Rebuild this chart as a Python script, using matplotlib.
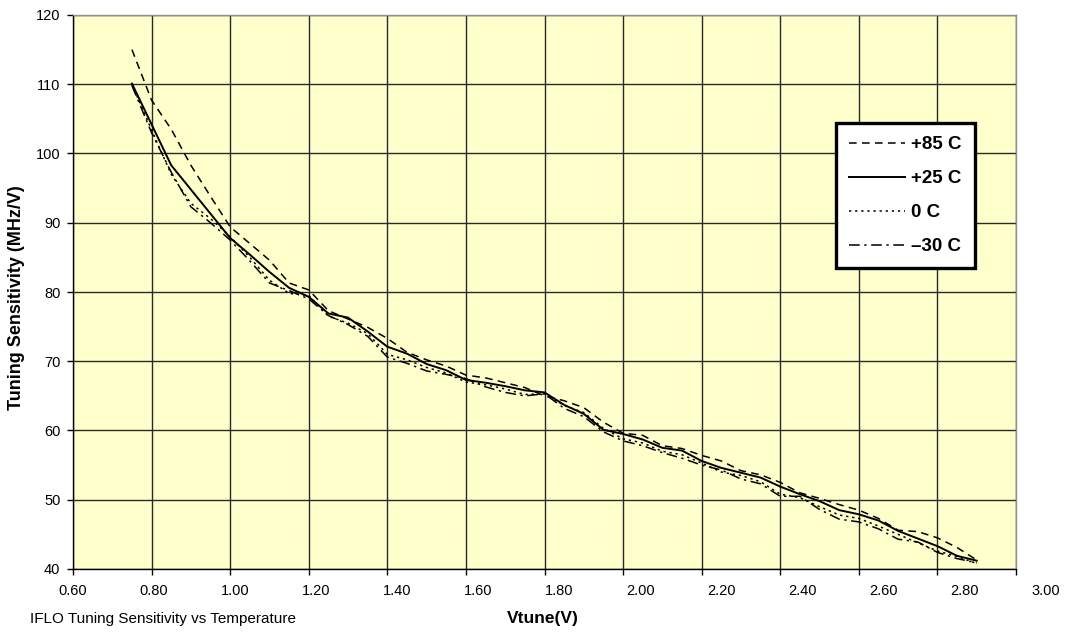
import matplotlib
matplotlib.use("Agg")
import matplotlib.pyplot as plt
import matplotlib.transforms as mtransforms

plt.rcParams["font.family"] = ["Liberation Sans", "DejaVu Sans"]

# Vtune sweep (V) shared by all temperature runs
vtune = [0.75, 0.80, 0.85, 0.90, 0.95, 1.00, 1.05, 1.10, 1.15, 1.20, 1.25,
         1.30, 1.35, 1.40, 1.45, 1.50, 1.55, 1.60, 1.65, 1.70, 1.75, 1.80,
         1.85, 1.90, 1.95, 2.00, 2.05, 2.10, 2.15, 2.20, 2.25, 2.30, 2.35,
         2.40, 2.45, 2.50, 2.55, 2.60, 2.65, 2.70, 2.75, 2.80, 2.85, 2.90]

# tuning sensitivity (MHz/V) per temperature
sens_p85 = [115.0, 107.7, 103.5, 98.3, 93.8, 89.4, 87.0, 84.6, 81.3, 80.3, 77.3,
            76.1, 74.9, 73.3, 71.3, 70.2, 69.3, 68.0, 67.6, 66.9, 66.2, 65.0,
            64.3, 63.3, 61.2, 59.6, 59.3, 57.8, 57.4, 56.4, 55.6, 54.2, 53.6,
            52.5, 51.0, 50.2, 49.3, 48.5, 47.3, 45.6, 45.4, 44.5, 43.1, 41.3]
sens_p25 = [110.1, 104.2, 98.3, 94.8, 91.3, 87.8, 85.4, 82.9, 80.6, 79.3, 76.9,
            76.3, 74.3, 72.1, 71.1, 69.6, 68.7, 67.3, 66.9, 66.4, 65.8, 65.5,
            63.7, 62.4, 60.1, 59.5, 58.7, 57.5, 57.1, 55.6, 54.6, 53.9, 53.2,
            51.9, 50.8, 49.8, 48.5, 47.9, 47.0, 45.5, 44.4, 43.3, 41.9, 41.2]
sens_0 = [110.0, 103.4, 97.0, 92.8, 90.6, 88.0, 85.0, 81.7, 79.8, 79.5, 76.5,
          75.5, 74.0, 71.0, 70.2, 69.1, 68.3, 67.0, 66.6, 66.0, 65.2, 65.3,
          63.6, 62.6, 60.3, 58.8, 58.2, 57.0, 56.5, 55.3, 54.0, 53.5, 52.6,
          50.8, 50.3, 49.0, 47.8, 47.3, 46.2, 45.0, 43.8, 42.6, 41.8, 40.8]
sens_m30 = [109.8, 103.0, 97.3, 92.3, 90.0, 87.5, 84.5, 81.3, 80.2, 79.0, 76.6,
            75.3, 73.6, 70.6, 69.7, 68.6, 68.1, 67.5, 66.3, 65.5, 65.0, 65.3,
            63.2, 62.0, 59.8, 58.5, 57.8, 56.8, 56.0, 55.0, 54.3, 53.0, 52.3,
            50.5, 50.5, 48.6, 47.2, 46.8, 45.8, 44.3, 43.9, 42.4, 41.5, 40.9]

labels = ["+85 C", "+25 C", "0 C", "\u201330 C"]
xticks = [0.60, 0.80, 1.00, 1.20, 1.40, 1.60, 1.80, 2.00, 2.20, 2.40, 2.60, 2.80, 3.00]
yticks = [40, 50, 60, 70, 80, 90, 100, 110, 120]

fig = plt.figure(figsize=(10.66, 6.35), dpi=100)
ax = fig.add_axes([73 / 1066, 1 - 569 / 635, (1016 - 73) / 1066, (569 - 15) / 635])
ax.set_facecolor("#FFFFCC")

styles = [
    dict(linestyle=(0, (5, 3.5)), linewidth=1.1),
    dict(linestyle="-", linewidth=1.4),
    dict(linestyle=(0, (1.5, 2.5)), linewidth=1.1),
    dict(linestyle=(0, (7, 3, 1.5, 3)), linewidth=1.1),
]
for ys, lab, st in zip([sens_p85, sens_p25, sens_0, sens_m30], labels, styles):
    ax.plot(vtune, ys, color="black", label=lab, **st)

ax.set_xlim(0.60, 3.00)
ax.set_ylim(40, 120)
ax.set_xticks(xticks)
ax.set_xticklabels([f"{t:.2f}" for t in xticks])
ax.set_yticks(yticks)
ax.grid(True, color="#2a2a2a", linewidth=1.0)
ax.set_axisbelow(True)

for side in ["top", "right"]:
    ax.spines[side].set_color("#909090")
    ax.spines[side].set_linewidth(1.0)
for side in ["left", "bottom"]:
    ax.spines[side].set_color("black")
    ax.spines[side].set_linewidth(1.0)

ax.tick_params(axis="both", direction="out", length=4, width=1, labelsize=10.5,
               colors="black")
ax.tick_params(axis="y", pad=5)
ax.tick_params(axis="x", pad=7)

# x tick labels drift slightly right of their ticks
for i, lab in enumerate(ax.get_xticklabels()):
    off = mtransforms.ScaledTranslation(i * 2.5 / 100, 0, fig.dpi_scale_trans)
    lab.set_transform(lab.get_transform() + off)

fig.text(543 / 1066, 1 - 619 / 635, "Vtune(V)", fontsize=12.5, fontweight="bold",
         ha="center", va="center")
fig.text(17 / 1066, 1 - 298 / 635, "Tuning Sensitivity (MHz/V)", fontsize=13,
         fontweight="bold", rotation=90, ha="center", va="center")
fig.text(30 / 1066, 1 - 619 / 635, "IFLO Tuning Sensitivity vs Temperature",
         fontsize=11, ha="left", va="center")

leg = ax.legend(loc="upper left", bbox_to_anchor=(836 / 1066, 1 - 123 / 635),
                bbox_transform=fig.transFigure, frameon=True, fancybox=False,
                framealpha=1, edgecolor="black", facecolor="white",
                prop=dict(weight="bold", size=13.5), handlelength=3.0,
                handletextpad=0.3, labelspacing=0.9, borderpad=0.7,
                borderaxespad=0)
leg.get_frame().set_linewidth(2.4)

fig.savefig("out.png", dpi=100)
